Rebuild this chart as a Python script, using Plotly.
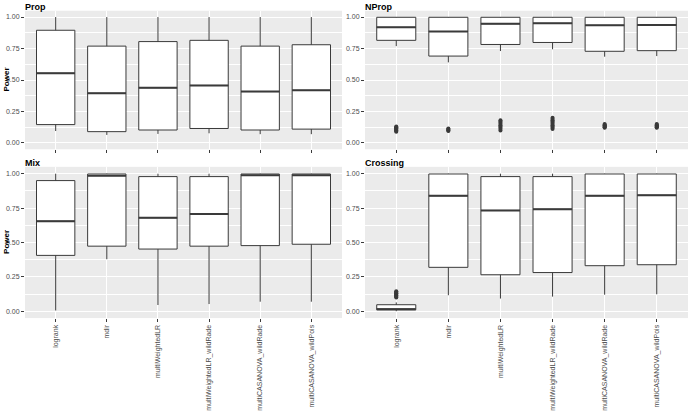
import plotly.graph_objects as go

methods = ["logrank", "mdir", "multiWeightedLR", "multiWeightedLR_wildRade",
           "multiCASANOVA_wildRade", "multiCASANOVA_wildPois"]

# Prop
prop_low = [0.095, 0.064, 0.072, 0.077, 0.070, 0.070]
prop_q1 = [0.146, 0.090, 0.103, 0.115, 0.103, 0.110]
prop_med = [0.554, 0.395, 0.438, 0.457, 0.408, 0.418]
prop_q3 = [0.895, 0.769, 0.805, 0.815, 0.769, 0.780]
prop_high = [1.0, 1.0, 1.0, 1.0, 1.0, 1.0]
prop_out = [[], [], [], [], [], []]

# NProp
nprop_low = [0.769, 0.640, 0.730, 0.744, 0.685, 0.690]
nprop_q1 = [0.815, 0.690, 0.782, 0.798, 0.728, 0.733]
nprop_med = [0.918, 0.885, 0.946, 0.950, 0.934, 0.937]
nprop_q3 = [0.998, 0.998, 0.998, 0.998, 0.998, 0.998]
nprop_high = [1.0, 1.0, 1.0, 1.0, 1.0, 1.0]
nprop_out = [[0.09, 0.095, 0.10, 0.105, 0.11, 0.115, 0.12, 0.125, 0.13],
             [0.095, 0.10, 0.105, 0.11, 0.115],
             [0.10, 0.11, 0.12, 0.13, 0.14, 0.15, 0.16, 0.17, 0.18],
             [0.11, 0.12, 0.13, 0.14, 0.15, 0.16, 0.17, 0.18, 0.19, 0.20],
             [0.12, 0.125, 0.13, 0.135, 0.14, 0.145, 0.15],
             [0.12, 0.125, 0.13, 0.135, 0.14, 0.145, 0.15]]

# Mix
mix_low = [0.005, 0.378, 0.045, 0.052, 0.069, 0.069]
mix_q1 = [0.406, 0.473, 0.452, 0.473, 0.477, 0.487]
mix_med = [0.655, 0.986, 0.679, 0.707, 0.988, 0.988]
mix_q3 = [0.950, 0.998, 0.979, 0.979, 0.998, 0.998]
mix_high = [1.0, 1.0, 1.0, 1.0, 1.0, 1.0]
mix_out = [[], [], [], [], [], []]

# Crossing
cross_low = [0.0, 0.116, 0.092, 0.106, 0.120, 0.123]
cross_q1 = [0.010, 0.319, 0.265, 0.281, 0.331, 0.338]
cross_med = [0.014, 0.839, 0.733, 0.742, 0.839, 0.844]
cross_q3 = [0.047, 0.998, 0.979, 0.979, 0.998, 0.998]
cross_high = [0.064, 1.0, 1.0, 1.0, 1.0, 1.0]
cross_out = [[0.10, 0.105, 0.11, 0.115, 0.12, 0.125, 0.13, 0.135, 0.14, 0.145], [], [], [], [], []]

panels = [
    ("Prop", prop_low, prop_q1, prop_med, prop_q3, prop_high, prop_out),
    ("NProp", nprop_low, nprop_q1, nprop_med, nprop_q3, nprop_high, nprop_out),
    ("Mix", mix_low, mix_q1, mix_med, mix_q3, mix_high, mix_out),
    ("Crossing", cross_low, cross_q1, cross_med, cross_q3, cross_high, cross_out),
]

W, H = 689, 411
FONT = "Liberation Sans, Arial, Helvetica, sans-serif"
# pixel boxes: (x0, x1, ytop, ybottom)
boxes = [(25, 342, 11, 153), (365, 688, 11, 153),
         (25, 342, 171, 326), (365, 688, 171, 326)]

fig = go.Figure()
pos = list(range(1, len(methods) + 1))
BW = 0.75
LINE = "#3a3a3a"

layout = dict(
    width=W, height=H, margin=dict(l=0, r=0, t=0, b=0),
    paper_bgcolor="white", plot_bgcolor="#EBEBEB",
    showlegend=False, font=dict(family=FONT, color="#4D4D4D"),
    annotations=[],
)

for i, (name, lo, q1, med, q3, hi, outs) in enumerate(panels):
    k = "" if i == 0 else str(i + 1)
    xa, ya = "x" + k, "y" + k
    fig.add_trace(go.Box(
        x=pos, q1=q1, median=med, q3=q3, lowerfence=lo, upperfence=hi,
        xaxis=xa, yaxis=ya, width=BW, whiskerwidth=0,
        fillcolor="white", line=dict(color=LINE, width=1),
        boxpoints=False, hoverinfo="skip",
    ))
    # thicker median lines (ggplot fatten)
    mx, my = [], []
    for p, m in zip(pos, med):
        mx += [p - BW / 2, p + BW / 2, None]
        my += [m, m, None]
    fig.add_trace(go.Scatter(x=mx, y=my, mode="lines", xaxis=xa, yaxis=ya,
                             line=dict(color=LINE, width=2), hoverinfo="skip"))
    ox, oy = [], []
    for p, o in zip(pos, outs):
        ox += [p] * len(o)
        oy += o
    if ox:
        fig.add_trace(go.Scatter(x=ox, y=oy, mode="markers", xaxis=xa, yaxis=ya,
                                 marker=dict(color=LINE, size=4), hoverinfo="skip"))

    x0, x1, yt, yb = boxes[i]
    bottom = i >= 2
    layout["xaxis" + k] = dict(
        domain=[x0 / W, x1 / W], anchor=ya, range=[0.4, 6.6],
        tickvals=pos, ticktext=methods, showticklabels=bottom,
        tickangle=-90, tickfont=dict(size=7, color="#4D4D4D", family=FONT),
        ticks="outside", ticklen=3, tickcolor=LINE, tickwidth=1,
        showgrid=True, gridcolor="white", gridwidth=1, zeroline=False,
        showline=False, fixedrange=True,
    )
    layout["yaxis" + k] = dict(
        domain=[1 - yb / H, 1 - yt / H], anchor=xa, range=[-0.05, 1.05],
        tickvals=[0, 0.25, 0.5, 0.75, 1.0], tickformat=".2f",
        tickfont=dict(size=7, color="#4D4D4D", family=FONT),
        ticks="outside", ticklen=3, tickcolor=LINE, tickwidth=1,
        showgrid=True, gridcolor="white", gridwidth=1, zeroline=False,
        minor=dict(showgrid=True, gridcolor="white", gridwidth=0.5,
                   tickvals=[0.125, 0.375, 0.625, 0.875]),
        showline=False, fixedrange=True,
    )
    layout["annotations"].append(dict(
        text="<b>%s</b>" % name, x=(x0 - 2) / W, y=1 - (yt - 11) / H,
        xref="paper", yref="paper", xanchor="left", yanchor="top",
        showarrow=False, font=dict(size=9, color="black", family=FONT),
    ))
    if i % 2 == 0:
        layout["annotations"].append(dict(
            text="<b>Power</b>", x=0, y=1 - ((yt + yb) / 2) / H,
            xref="paper", yref="paper", xanchor="left", yanchor="middle",
            textangle=-90, showarrow=False,
            font=dict(size=8, color="black", family=FONT),
        ))

fig.update_layout(**layout)
fig.write_html("out.html")
